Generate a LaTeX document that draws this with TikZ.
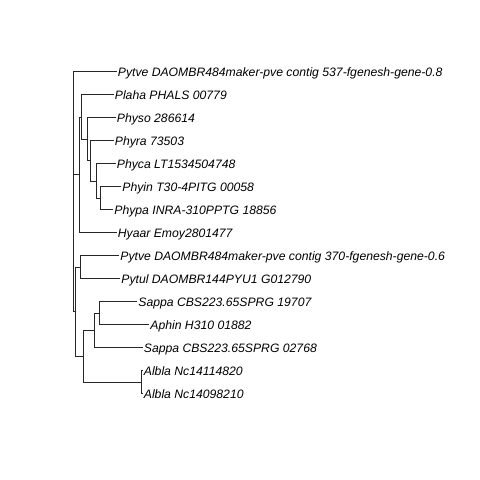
\documentclass[tikz,border=0pt]{standalone}
\usepackage{fontspec}
\setmainfont{Liberation Sans}
\begin{document}
\begin{tikzpicture}[x=1pt,y=-1pt,
  branch/.style={draw=black!85,line width=0.9pt},
  tiplabel/.style={anchor=base west,inner sep=0pt,xshift=1.2pt,yshift=-4.3pt,
    font=\fontsize{12.2}{14}\selectfont\itshape}]
\useasboundingbox[fill=white] (0,0) rectangle (480,480);

% tips (branch ends)
\coordinate (t1)  at (116.5,71.7);
\coordinate (t2)  at (113.5,94.7);
\coordinate (t3)  at (115.5,117.7);
\coordinate (t4)  at (113.5,140.7);
\coordinate (t5)  at (115.5,163.7);
\coordinate (t6)  at (121.0,186.7);
\coordinate (t7)  at (113.0,209.7);
\coordinate (t8)  at (116.5,232.7);
\coordinate (t9)  at (119.0,255.7);
\coordinate (t10) at (120.0,278.7);
\coordinate (t11) at (137.0,301.7);
\coordinate (t12) at (149.0,324.7);
\coordinate (t13) at (142.5,347.7);
\coordinate (t14) at (142.5,370.7);
\coordinate (t15) at (142.5,393.7);

% internal nodes
\coordinate (root)   at (73.3,191.7);
\coordinate (nA)     at (79.3,174.84);
\coordinate (nplaha) at (81.7,116.98);
\coordinate (nphyso) at (87.3,139.25);
\coordinate (nphyra) at (90.0,160.8);
\coordinate (nphyca) at (96.0,180.95);
\coordinate (nphyin) at (100.7,198.2);
\coordinate (nB)     at (75.0,311.75);
\coordinate (npyt)   at (80.7,267.2);
\coordinate (nsapalb) at (83.3,356.3);
\coordinate (nsap)   at (94.3,330.45);
\coordinate (nsa)    at (99.3,313.2);
\coordinate (nalb)   at (141.0,382.2);

% branches
\draw[branch] (root) |- (t1);
\draw[branch] (root) |- (nA);
\draw[branch] (root) |- (nB);
\draw[branch] (nA) |- (nplaha);
\draw[branch] (nA) |- (t8);
\draw[branch] (nplaha) |- (t2);
\draw[branch] (nplaha) |- (nphyso);
\draw[branch] (nphyso) |- (t3);
\draw[branch] (nphyso) |- (nphyra);
\draw[branch] (nphyra) |- (t4);
\draw[branch] (nphyra) |- (nphyca);
\draw[branch] (nphyca) |- (t5);
\draw[branch] (nphyca) |- (nphyin);
\draw[branch] (nphyin) |- (t6);
\draw[branch] (nphyin) |- (t7);
\draw[branch] (nB) |- (npyt);
\draw[branch] (nB) |- (nsapalb);
\draw[branch] (npyt) |- (t9);
\draw[branch] (npyt) |- (t10);
\draw[branch] (nsapalb) |- (nsap);
\draw[branch] (nsapalb) |- (nalb);
\draw[branch] (nsap) |- (nsa);
\draw[branch] (nsap) |- (t13);
\draw[branch] (nsa) |- (t11);
\draw[branch] (nsa) |- (t12);
\draw[branch] (nalb) |- (t14);
\draw[branch] (nalb) |- (t15);

% tip labels
\node[tiplabel] (l1)  at (t1)  {Pytve DAOMBR484maker-pve contig 537-fgenesh-gene-0.8};
\node[tiplabel] (l2)  at (t2)  {Plaha PHALS 00779};
\node[tiplabel] (l3)  at (t3)  {Physo 286614};
\node[tiplabel] (l4)  at (t4)  {Phyra 73503};
\node[tiplabel] (l5)  at (t5)  {Phyca LT1534504748};
\node[tiplabel] (l6)  at (t6)  {Phyin T30-4PITG 00058};
\node[tiplabel] (l7)  at (t7)  {Phypa INRA-310PPTG 18856};
\node[tiplabel] (l8)  at (t8)  {Hyaar Emoy2801477};
\node[tiplabel] (l9)  at (t9)  {Pytve DAOMBR484maker-pve contig 370-fgenesh-gene-0.6};
\node[tiplabel] (l10) at (t10) {Pytul DAOMBR144PYU1 G012790};
\node[tiplabel] (l11) at (t11) {Sappa CBS223.65SPRG 19707};
\node[tiplabel] (l12) at (t12) {Aphin H310 01882};
\node[tiplabel] (l13) at (t13) {Sappa CBS223.65SPRG 02768};
\node[tiplabel] (l14) at (t14) {Albla Nc14114820};
\node[tiplabel] (l15) at (t15) {Albla Nc14098210};
\end{tikzpicture}
\end{document}
